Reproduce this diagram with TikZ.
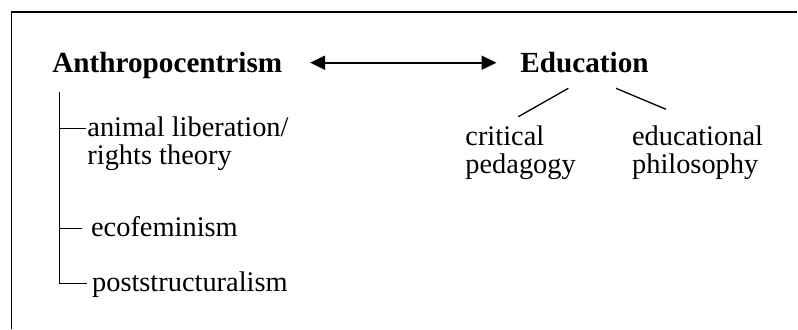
\documentclass[tikz,border=0pt]{standalone}
\usepackage{fontspec}
\setmainfont{Liberation Serif}
\usetikzlibrary{arrows.meta}
\tikzset{
  term/.style={anchor=base west,inner sep=0pt,font=\bfseries\fontsize{14.6}{14}\selectfont},
  leaf/.style={anchor=base west,inner sep=0pt,align=left,font=\fontsize{14.2}{13.7}\selectfont},
}
\begin{document}
\begin{tikzpicture}[x=0.5pt,y=-0.5pt]
\useasboundingbox (0,0) rectangle (798,329);
\draw[line width=0.8pt] (11.5,329)--(11.5,12)--(797,12);
\node[term] (anthro) at (52,72) {Anthropocentrism};
\node[term] (edu) at (520,72) {Education};
\draw[{Triangle[length=7.5pt,width=7pt]}-{Triangle[length=7.5pt,width=7pt]},line width=0.9pt]
  ([shift={(27.5,-9.3)}]anthro.base east)--([shift={(-23.5,-9.3)}]edu.base west);
% base of a two-line node is its last line
\node[leaf] (anim) at (87,164) {animal liberation/\\rights theory};
\node[leaf] (eco) at (90.7,236.7) {ecofeminism};
\node[leaf] (post) at (91.7,291.7) {poststructuralism};
\coordinate (trunk) at (59.3,91.7);
\draw[line width=0.7pt] (trunk) |- ([shift={(-4.5,-8.4)}]post.base west);
\draw[line width=0.7pt] (trunk |- anim.base) ++(0,-35.7) -- ([shift={(-1,-35.7)}]anim.base west);
\draw[line width=0.7pt] (trunk |- eco.base) ++(0,-8.4) -- ([shift={(-9,-8.4)}]eco.base west);
\node[leaf] (crit) at (465,173.2) {critical\\pedagogy};
\node[leaf] (phil) at (631.7,173.2) {educational\\philosophy};
\draw[line width=0.65pt] ([shift={(48.3,16.3)}]edu.base west)--([shift={(53.3,-56.5)}]crit.base west);
\draw[line width=0.65pt] ([shift={(96,16.3)}]edu.base west)--([shift={(34.3,-63.9)}]phil.base west);
\end{tikzpicture}
\end{document}
